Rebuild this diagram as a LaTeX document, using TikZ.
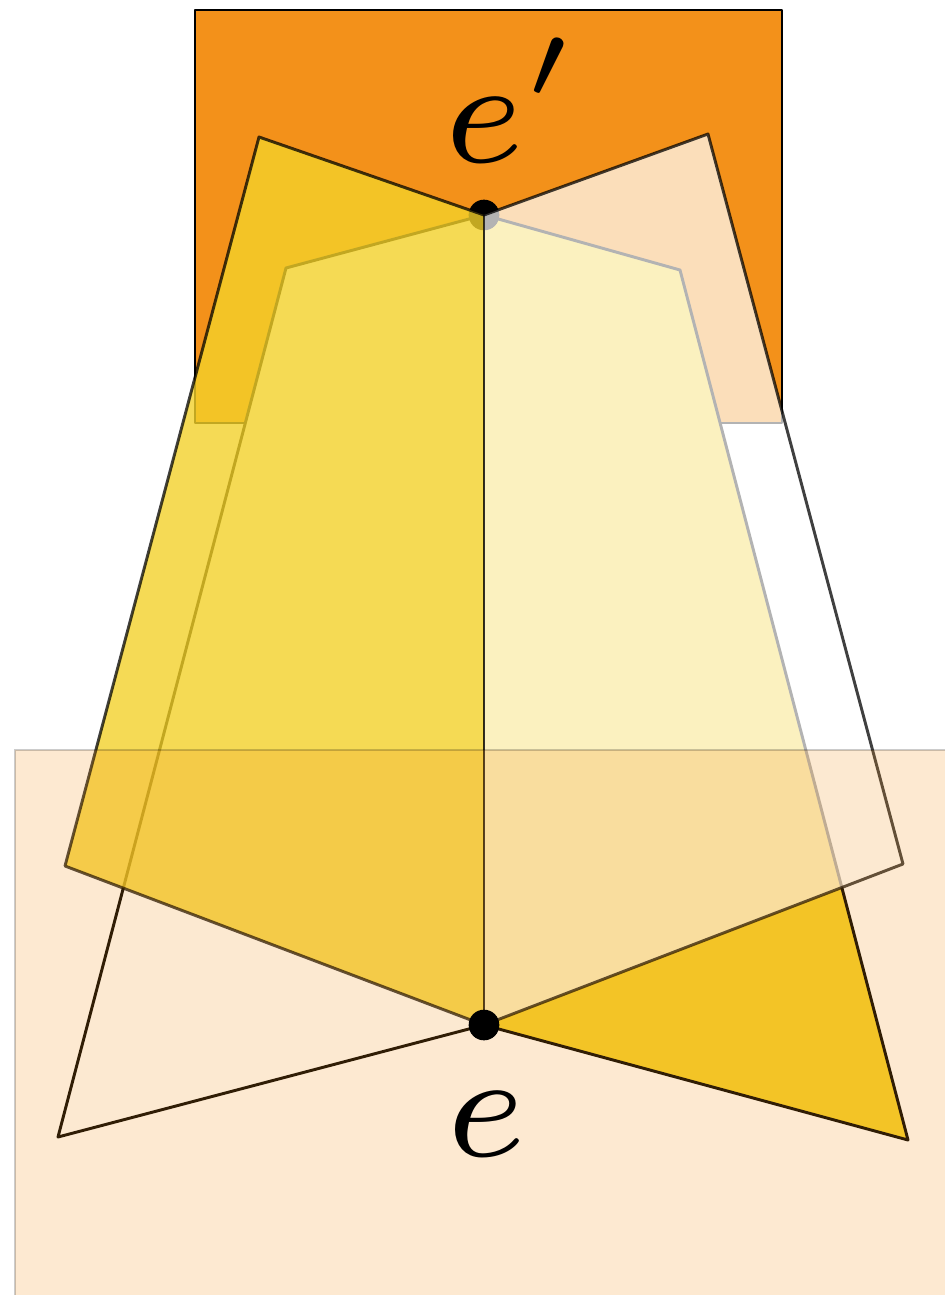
\documentclass[tikz,border=0pt]{standalone}

\definecolor{faceorange}{RGB}{243,145,26}
\definecolor{faceyellow}{RGB}{243,209,42}

\tikzset{every picture/.style={line width=2.2pt}}
\tikzset{
  edgeline/.style={draw=black, line join=round},
  frontedge/.style={draw=black, draw opacity=0.75, line join=round},
  vertexdot/.style={circle, fill=black, inner sep=0pt, minimum size=23pt},
  vlabel/.style={inner sep=0pt, font=\scriptsize, scale=16}
}

\begin{document}
\begin{tikzpicture}[x=0.75pt,y=0.75pt,yscale=-1,xscale=1]
			\clip (0,0) rectangle (945,1295);
			
			%Corners
			\coordinate (E1) at (484,215);
			\coordinate (E0) at (484,1025);
			\coordinate (A) at (259,137);
			\coordinate (B) at (708,134);
			\coordinate (S) at (903,864);
			\coordinate (U) at (65,866);
			\coordinate (P) at (286,268);
			\coordinate (R) at (680,270);
			\coordinate (C) at (908,1140);
			\coordinate (D) at (58,1137);
			
			%Top face
			\draw [edgeline, fill=faceorange] (195,10) rectangle (782,423);
			
			%Lower quad pair
			\fill [white] (P) -- (E1) -- (E0) -- (D) -- cycle;
			\fill [faceyellow] (E1) -- (R) -- (C) -- (E0) -- cycle;
			\draw [edgeline] (P) -- (E1) -- (R) -- (C) -- (E0) -- (D) -- cycle;
			\draw [edgeline] (E1) -- (E0);
			
			% Vertex e'
			\node [vertexdot] (ep) at (E1) {};
			
			%Upper quad pair
			\fill [faceyellow, fill opacity=0.8] (A) -- (E1) -- (E0) -- (U) -- cycle;
			\fill [white, fill opacity=0.7] (E1) -- (B) -- (S) -- (E0) -- cycle;
			\draw [frontedge] (A) -- (E1) -- (B) -- (S) -- (E0) -- (U) -- cycle;
			\draw [frontedge] (E1) -- (E0);
			
			%Bottom face
			\draw [fill=faceorange, opacity=0.2] (15,750) rectangle (980,1330);
			
			% Vertex e
			\node [vertexdot] (e) at (E0) {};
			
			% Text Node
			\node [vlabel, anchor=base west] (eplabel) at (420,162) {$e'$};
			% Text Node
			\node [vlabel, anchor=base] (elabel) at (486,1156) {$e$};
		\end{tikzpicture}
\end{document}
